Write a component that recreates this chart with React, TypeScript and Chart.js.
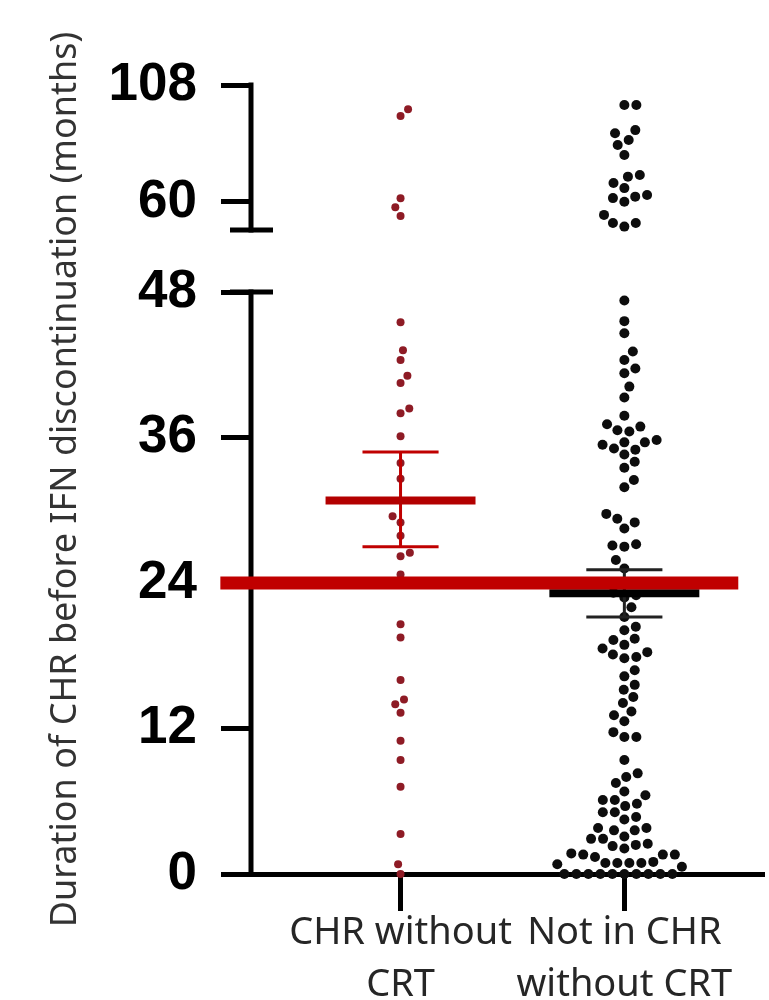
import React, { useEffect, useRef } from 'react';
import { Chart, registerables, LinearScale } from 'chart.js';

Chart.register(...registerables);

// ---------- data ----------
const categoryLines: string[][] = [
  ['CHR without', 'CRT'],
  ['Not in CHR', 'without CRT'],
];

const yTickValues = [0, 12, 24, 36, 48, 60, 108];

const chrWithoutCrt = [
  98.0, 95.3, 61.5, 57.8, 54.3,
  45.5, 43.2, 42.4, 41.1, 40.5, 38.4, 38.0, 36.1, 33.9, 32.6, 29.5, 29.0, 27.9,
  26.5, 26.2, 24.7, 20.6, 19.5, 16.0, 14.4, 14.0, 13.3, 11.0, 9.4, 7.2, 3.3, 0.8, 0.0,
];

const notInChrWithoutCrt = [
  99.8, 99.8, 89.5, 88.2, 85.4, 83.4, 79.3, 71.1, 70.4, 67.8, 65.7, 62.9, 62.2, 61.6, 60.1,
  54.7, 51.4, 51.4, 49.9,
  47.3, 45.6, 44.6, 43.1, 42.4, 41.7, 41.3, 40.2, 39.3, 37.8, 37.1, 36.9, 36.6, 36.5, 35.8,
  35.6, 35.6, 35.4, 35.1, 35.0, 34.6, 34.0, 33.5, 32.5, 31.9, 29.7, 29.3, 29.0, 28.5, 27.2,
  27.1, 27.0, 25.9, 25.2,
  23.2, 23.0, 22.8, 22.0, 21.2, 20.4, 20.1, 19.4, 19.3, 18.9, 18.6, 18.3, 18.1, 17.9, 17.8,
  16.8, 16.3, 15.6, 15.2, 14.6, 14.1, 13.4, 13.1, 12.6, 11.7, 11.3, 11.3,
  9.4, 8.3, 8.0, 7.5, 6.8, 6.5, 6.1, 6.1, 5.8, 5.6, 5.1, 5.1, 4.7, 4.5, 3.8, 3.8, 3.6, 3.6,
  3.1, 2.9, 2.9, 2.5, 2.4, 2.3, 2.1, 1.7, 1.6, 1.6, 1.6, 1.4, 1.0, 0.9, 0.9, 0.9, 0.9, 0.8, 0.6,
  0, 0, 0, 0, 0, 0, 0, 0, 0, 0,
];

const groupMeans = [30.8, 23.15];
const groupSemHigh = [34.8, 25.1];
const groupSemLow = [27.0, 21.2];
const referenceValue = 24;

const yTitle = 'Duration of CHR before IFN discontinuation (months)';

// ---------- broken y axis (layout of the two segments as fractions of the axis) ----------
const SEGMENTS = [
  { from: 0, to: 48, start: 0, end: 0.7376 },
  { from: 48.5, to: 108, start: 0.8162, end: 1 },
];

class BrokenLinearScale extends LinearScale {
  static id = 'brokenLinear';
  static defaults = LinearScale.defaults;
  getPixelForValue(value: any) {
    if (value === null || value === undefined || isNaN(value)) return NaN;
    const seg = value > (SEGMENTS[0].to + SEGMENTS[1].from) / 2 ? SEGMENTS[1] : SEGMENTS[0];
    const dec = seg.start + ((value - seg.from) / (seg.to - seg.from)) * (seg.end - seg.start);
    return (this as any).getPixelForDecimal(dec);
  }
  getValueForPixel(pixel: number) {
    const dec = (this as any).getDecimalForPixel(pixel);
    const seg = dec > (SEGMENTS[0].end + SEGMENTS[1].start) / 2 ? SEGMENTS[1] : SEGMENTS[0];
    return seg.from + ((dec - seg.start) / (seg.end - seg.start)) * (seg.to - seg.from);
  }
}
Chart.register(BrokenLinearScale as any);

// draws the two pieces of the y axis and the break caps
const brokenAxisPlugin = {
  id: 'brokenAxis',
  beforeDatasetsDraw(chart: any) {
    const { ctx, chartArea, scales } = chart;
    const y = scales.y;
    const x = chartArea.left;
    ctx.save();
    ctx.strokeStyle = '#000';
    ctx.lineWidth = 5;
    ctx.lineCap = 'butt';
    SEGMENTS.forEach((seg) => {
      const p0 = y.getPixelForValue(seg.from);
      const p1 = y.getPixelForValue(seg.to);
      ctx.beginPath();
      ctx.moveTo(x, Math.max(p0, p1) + 2.5);
      ctx.lineTo(x, Math.min(p0, p1) - 2.5);
      ctx.stroke();
    });
    [SEGMENTS[0].to, SEGMENTS[1].from].forEach((v) => {
      const py = y.getPixelForValue(v);
      ctx.beginPath();
      ctx.moveTo(x - 21, py);
      ctx.lineTo(x + 22, py);
      ctx.stroke();
    });
    ctx.restore();
  },
};

// spreads points of a column sideways so that they do not sit on top of each other
const swarmPlugin = {
  id: 'swarm',
  afterDatasetsUpdate(chart: any) {
    chart.data.datasets.forEach((ds: any, i: number) => {
      if (!ds.swarmGap) return;
      const meta = chart.getDatasetMeta(i);
      const D = ds.swarmGap;
      const els = meta.data.slice().sort((a: any, b: any) => b.y - a.y);
      const placed: { x: number; y: number }[] = [];
      let flip = 1;
      els.forEach((el: any) => {
        const x0 = el.x;
        const y0 = el.y;
        const cands = [x0];
        placed.forEach((p) => {
          const dy = Math.abs(p.y - y0);
          if (dy < D) {
            const dx = Math.sqrt(D * D - dy * dy);
            cands.push(p.x - dx, p.x + dx);
          }
        });
        flip = -flip;
        cands.sort((a, b) => {
          const d = Math.abs(a - x0) - Math.abs(b - x0);
          if (Math.abs(d) > 1e-6) return d;
          return flip * (a - b);
        });
        for (const c of cands) {
          if (placed.every((p) => (p.x - c) ** 2 + (p.y - y0) ** 2 >= D * D - 0.01)) {
            el.x = c;
            break;
          }
        }
        placed.push({ x: el.x, y: y0 });
      });
    });
  },
};

const MEAN_HALF = 0.335;
const CAP_HALF = 0.17;
const REF_FROM = 0.195;
const REF_TO = 2.509;

export default function App() {
  const ref = useRef<HTMLCanvasElement>(null);

  useEffect(() => {
    document.body.style.margin = '0';
    const groups = [chrWithoutCrt, notInChrWithoutCrt];
    const meanData = (g: number) => [
      { x: g + 1 - MEAN_HALF, y: groupMeans[g] },
      { x: g + 1 + MEAN_HALF, y: groupMeans[g] },
    ];
    const semData = (g: number) => {
      const c = g + 1;
      return [
        { x: c - CAP_HALF, y: groupSemHigh[g] },
        { x: c + CAP_HALF, y: groupSemHigh[g] },
        { x: c, y: null },
        { x: c, y: groupSemHigh[g] },
        { x: c, y: groupSemLow[g] },
        { x: c, y: null },
        { x: c - CAP_HALF, y: groupSemLow[g] },
        { x: c + CAP_HALF, y: groupSemLow[g] },
      ];
    };
    const lineBase = { type: 'line', pointRadius: 0, fill: false, clip: false, spanGaps: false, tension: 0 };

    const chart = new Chart(ref.current as HTMLCanvasElement, {
      type: 'scatter',
      data: {
        datasets: [
          {
            ...lineBase,
            data: [
              { x: REF_FROM, y: referenceValue },
              { x: REF_TO, y: referenceValue },
            ],
            borderColor: '#c00000',
            borderWidth: 13,
            order: 0,
          },
          { ...lineBase, data: meanData(0), borderColor: '#b30000', borderWidth: 8, order: 1 },
          { ...lineBase, data: meanData(1), borderColor: '#000000', borderWidth: 8, order: 1 },
          { ...lineBase, data: semData(0), borderColor: '#c00000', borderWidth: 3, order: 2 },
          { ...lineBase, data: semData(1), borderColor: '#222222', borderWidth: 3, order: 2 },
          {
            data: groups[0].map((v) => ({ x: 1, y: v })),
            pointRadius: 4,
            pointBackgroundColor: '#8e1b25',
            pointBorderWidth: 0,
            clip: false,
            order: 3,
            swarmGap: 10,
          },
          {
            data: groups[1].map((v) => ({ x: 2, y: v })),
            pointRadius: 5,
            pointBackgroundColor: '#0d0d0d',
            pointBorderWidth: 0,
            clip: false,
            order: 3,
            swarmGap: 12,
          },
        ] as any,
      },
      options: {
        responsive: false,
        animation: false,
        devicePixelRatio: 1,
        layout: { padding: { top: 85, left: 0, right: 0, bottom: 0 } },
        plugins: { legend: { display: false }, tooltip: { enabled: false } },
        scales: {
          x: {
            type: 'linear',
            min: 0.3319,
            max: 2.6239,
            afterBuildTicks: (s: any) => {
              s.ticks = categoryLines.map((_, i) => ({ value: i + 1 }));
            },
            afterFit: (s: any) => {
              s.height = 126;
            },
            border: { display: true, width: 5, color: '#000' },
            grid: { drawOnChartArea: false, tickLength: 37, tickWidth: 5, tickColor: '#000' },
            ticks: {
              autoSkip: false,
              maxRotation: 0,
              minRotation: 0,
              padding: -4,
              color: '#262626',
              font: { family: 'Noto Sans', size: 38, lineHeight: 1.38 },
              callback: (v: any) => categoryLines[Math.round(v) - 1],
            },
          },
          y: {
            type: 'brokenLinear',
            min: 0,
            max: 108,
            afterBuildTicks: (s: any) => {
              s.ticks = yTickValues.map((v) => ({ value: v }));
            },
            afterFit: (s: any) => {
              s.width = 251;
            },
            border: { display: false },
            grid: { drawOnChartArea: false, tickLength: 30, tickWidth: 5, tickColor: '#000' },
            ticks: {
              autoSkip: false,
              padding: 24,
              color: '#000',
              font: { family: 'Liberation Sans', size: 53, weight: 'bold' },
              callback: (v: any) => String(v),
            },
            title: {
              display: true,
              text: yTitle,
              color: '#333',
              font: { family: 'Noto Sans', size: 36 },
              padding: { top: 44, bottom: 0 },
            },
          } as any,
        },
      },
      plugins: [brokenAxisPlugin, swarmPlugin],
    } as any);
    return () => chart.destroy();
  }, []);

  return <canvas ref={ref} width={769} height={1000} style={{ display: 'block' }} />;
}
